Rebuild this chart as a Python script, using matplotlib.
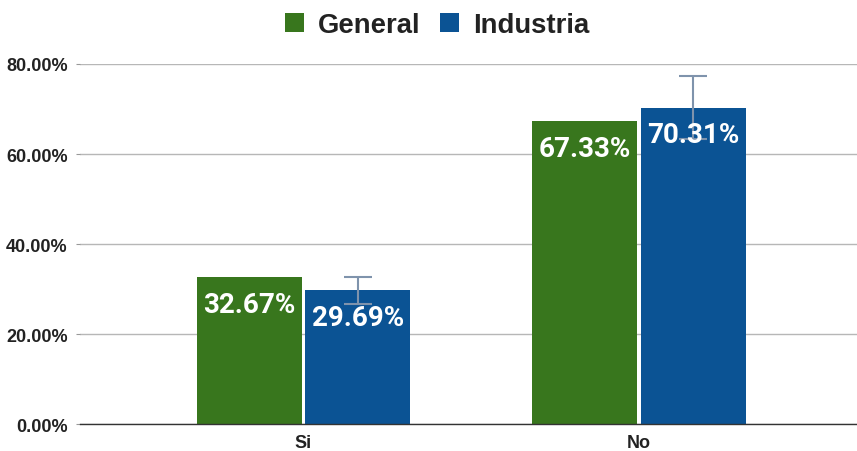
import matplotlib.pyplot as plt
import numpy as np

# ========== Data ==========
categories = ['Si', 'No']
general = [32.67, 67.33]
industria = [29.69, 70.31]
industria_err = [3.0, 7.0]
yticks = [0, 20, 40, 60, 80]

GREEN = '#38761d'
BLUE = '#0b5394'
ERR_COLOR = '#7f93ac'

# ========== Figure ==========
fig = plt.figure(figsize=(8.57, 4.52), dpi=100)
ax = fig.add_axes([0.0934, 0.0597, 0.9066, 0.7965])

x = np.arange(len(categories))
width = 0.313
offset = 0.162

bars_g = ax.bar(x - offset, general, width, color=GREEN, label='General', zorder=3)
bars_i = ax.bar(x + offset, industria, width, color=BLUE, label='Industria', zorder=3)
ax.errorbar(x + offset, industria, yerr=industria_err, fmt='none', ecolor=ERR_COLOR,
            elinewidth=1.5, capsize=10, capthick=1.5, zorder=4)

# value labels inside the top of each bar
for bars, vals in ((bars_g, general), (bars_i, industria)):
    for b, v in zip(bars, vals):
        ax.annotate(f'{v:.2f}%', (b.get_x() + b.get_width() / 2, v),
                    xytext=(0, -10), textcoords='offset points',
                    ha='center', va='top', color='white', fontsize=20,
                    fontweight='bold', family='Roboto', zorder=5)

ax.set_xlim(-0.666, 1.65)
ax.set_ylim(0, 80)
ax.set_yticks(yticks)
ax.set_yticklabels([f'{t:.2f}%' for t in yticks], fontsize=13, fontweight='bold',
                   family='Liberation Sans', color='#222222')
ax.set_xticks(x)
ax.set_xticklabels(categories, fontsize=13, fontweight='bold',
                   family='Liberation Sans', color='#222222')
ax.tick_params(axis='y', length=3, color='#999999', pad=6)
ax.tick_params(axis='x', length=0, pad=7)

ax.grid(axis='y', color='#b7b7b7', linewidth=1, zorder=0)
for s in ('top', 'right', 'left'):
    ax.spines[s].set_visible(False)
ax.spines['bottom'].set_color('#333333')
ax.spines['bottom'].set_linewidth(1)
ax.spines['bottom'].set_zorder(4)

leg = fig.legend(loc='upper center', bbox_to_anchor=(0.51, 1.025), ncol=2, frameon=False,
                 prop={'family': 'Liberation Sans', 'weight': 'bold', 'size': 19.8},
                 handlelength=0.7, handleheight=0.7, handletextpad=0.5, columnspacing=0.7)
for t in leg.get_texts():
    t.set_color('#222222')

fig.savefig('out.png', dpi=100)
